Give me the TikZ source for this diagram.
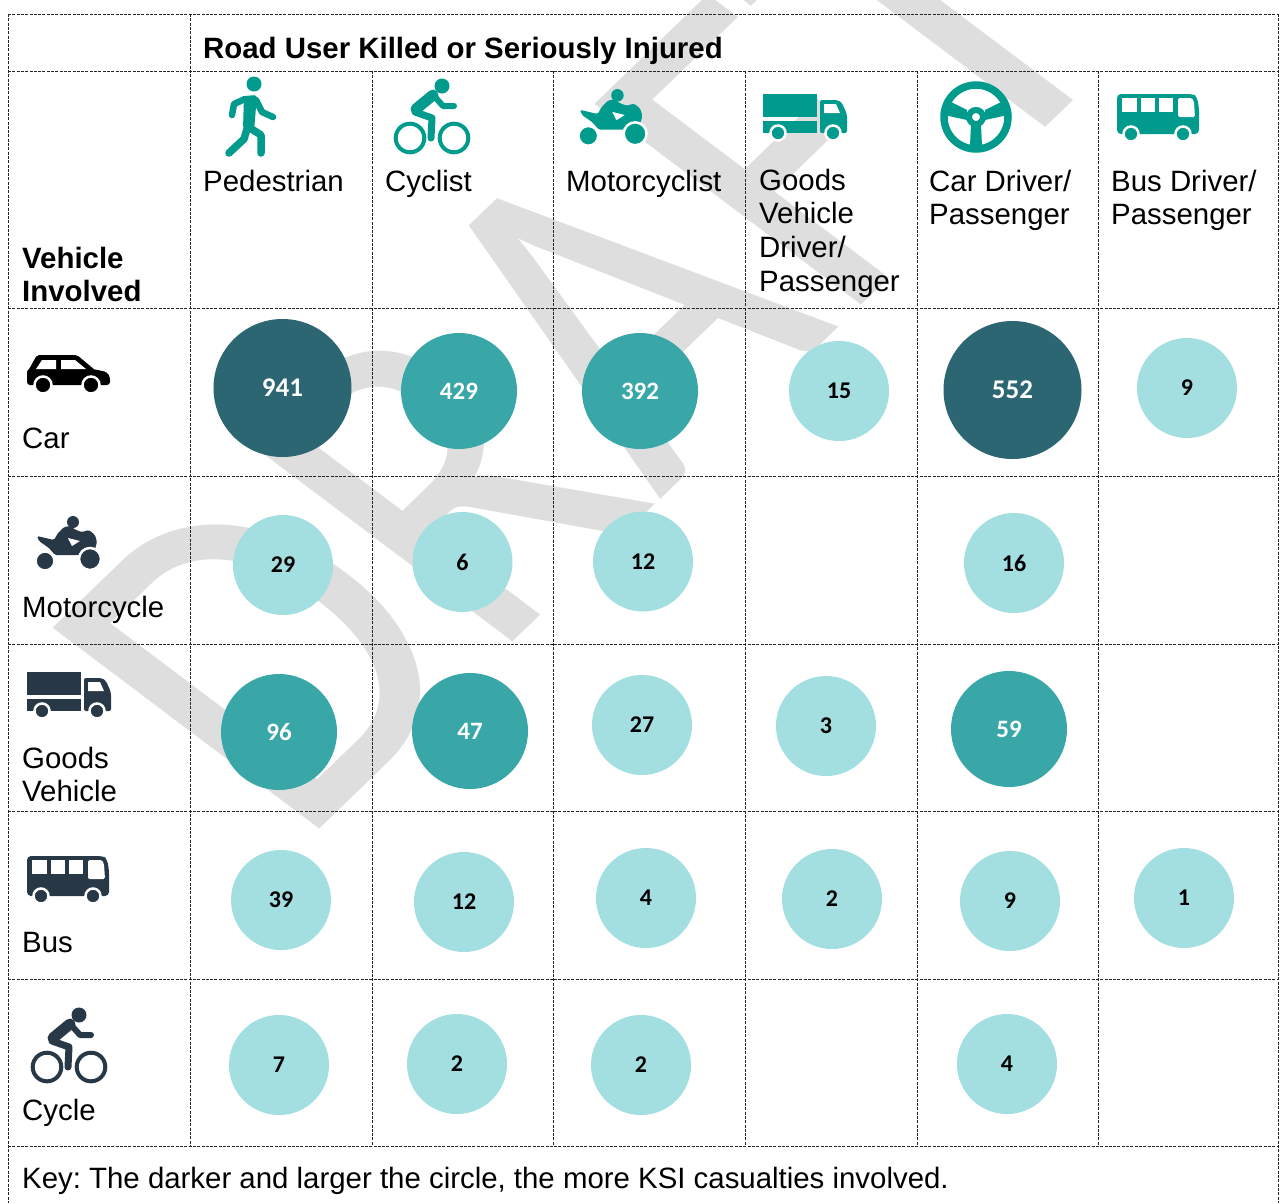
\documentclass[tikz,border=0pt]{standalone}
\usepackage{fontspec}
\setmainfont{Liberation Sans}
\newfontfamily\numfont{Carlito}
\newfontfamily\wmfont{Carlito}
\frenchspacing
\definecolor{icteal}{RGB}{0,155,141}
\definecolor{icslate}{RGB}{40,56,70}
\definecolor{cdark}{RGB}{43,102,114}
\definecolor{cmed}{RGB}{57,166,168}
\definecolor{clight}{RGB}{163,223,224}
\definecolor{wmgray}{RGB}{222,222,222}
\newcommand\mkTruck[1]{%
 \fill[#1] (0,0) rectangle (54,23);
 \fill[#1] (0,27) rectangle (54,39);
 \fill[#1,rounded corners=2pt] (57,6) -- (75,6) -- (79,9) -- (83,18) -- (84,21) -- (84,39) -- (57,39) -- cycle;
 \fill[white] (61,10) -- (73,10) -- (77,19) -- (61,19) -- cycle;
 \filldraw[fill=#1,draw=white,line width=2.5pt] (15,39) circle (7.5);
 \filldraw[fill=#1,draw=white,line width=2.5pt] (70,39) circle (7.5);
}
\newcommand\mkBus[1]{%
 \fill[#1,rounded corners=4pt] (0,0) -- (76,0) -- (80,3) -- (82,14) -- (82,40) -- (0,40) -- cycle;
 \fill[white] (5,4) rectangle (20,18);
 \fill[white] (24,4) rectangle (38,18);
 \fill[white] (42,4) rectangle (56,18);
 \fill[white,rounded corners=1.5pt] (61,4) -- (75,4) -- (77,8) -- (78,23) -- (61,23) -- cycle;
 \filldraw[fill=#1,draw=white,line width=2.5pt] (14,40) circle (7.5);
 \filldraw[fill=#1,draw=white,line width=2.5pt] (66,40) circle (7.5);
}
\newcommand\mkMoto[1]{%
 \fill[#1] (36,7) circle (6);
 \fill[#1,rounded corners=1.5pt] (0,21) -- (17,25) -- (21,18) -- (27,12) -- (33,11) -- (39,15) -- (45,17) -- (52,15) -- (58,20) -- (60,27) -- (58,34) -- (50,38) -- (42,40) -- (18,40) -- (12,33) -- (2,26) -- cycle;
 \fill[white] (31,23) -- (43,26) -- (35,31) -- cycle;
 \filldraw[fill=#1,draw=white,line width=2.5pt] (8,46) circle (9.5);
 \filldraw[fill=#1,draw=white,line width=2.5pt] (53,44) circle (11);
}
\newcommand\mkCyc[1]{%
 \fill[#1] (50,9) circle (7.5);
 \draw[#1,line width=11pt,line cap=round] (41,18) -- (24,32);
 \draw[#1,line width=6pt,line cap=round,line join=round] (43,20) -- (51,29) -- (62,29);
 \draw[#1,line width=7pt,line cap=round,line join=round] (23,35) -- (40,41) -- (39,61);
 \draw[#1,line width=4pt] (18,61) circle (14.3);
 \draw[#1,line width=4pt] (62,61) circle (14.3);
}
\begin{document}
\begin{tikzpicture}[x=1pt,y=-1pt,
 gridline/.style={draw=black!85,line width=0.8pt,dash pattern=on 3pt off 1.3pt},
 lbl/.style={anchor=base west,inner sep=0pt,font=\fontsize{29.4}{34}\selectfont},
 blbl/.style={lbl,font=\bfseries\fontsize{29.4}{34}\selectfont},
 bub/.style={circle,inner sep=0pt},
 bdark/.style={bub,fill=cdark,minimum size=138pt,text=white,font=\numfont\bfseries\fontsize{27}{27}\selectfont},
 bmed/.style={bub,fill=cmed,minimum size=116pt,text=white,font=\numfont\bfseries\fontsize{25}{25}\selectfont},
 blight/.style={bub,fill=clight,minimum size=100pt,text=black,font=\numfont\bfseries\fontsize{24}{24}\selectfont}
]
\useasboundingbox (0,0) rectangle (1280,1203);
\fill[white] (0,0) rectangle (1280,1203);
% watermark
\begin{scope}[cm={3.120,3.016,-4.155,3.130,(298,850)}]
\node[transform shape,anchor=base west,inner sep=0pt,text=wmgray,font=\wmfont\fontsize{100}{100}\selectfont] (wm) at (0,0) {DRAFT};
\end{scope}
% grid
\draw[gridline] (8,14) -- (1278,14);
\draw[gridline] (8,71) -- (1278,71);
\foreach \y in {308,476,644,811,979,1146} \draw[gridline] (8,\y) -- (1278,\y);
\draw[gridline] (8,14) -- (8,1203);
\draw[gridline] (1278,14) -- (1278,1203);
\draw[gridline] (190,14) -- (190,1146);
\foreach \x in {372,553,745,917,1098} \draw[gridline] (\x,71) -- (\x,1146);
% texts
\node[blbl] (title) at (203,58) {Road User Killed or Seriously Injured};
\node[blbl] (vi1) at (22,268) {Vehicle};
\node[blbl] (vi2) at (22,301) {Involved};
\node[lbl] (h1) at (203,191) {Pedestrian};
\node[lbl] (h2) at (385,191) {Cyclist};
\node[lbl] (h3) at (566,191) {Motorcyclist};
\node[lbl] (h4a) at (759,190) {Goods};
\node[lbl] (h4b) at (759,223) {Vehicle};
\node[lbl] (h4c) at (759,257) {Driver/};
\node[lbl] (h4d) at (759,291) {Passenger};
\node[lbl] (h5a) at (929,191) {Car Driver/};
\node[lbl] (h5b) at (929,224) {Passenger};
\node[lbl] (h6a) at (1111,191) {Bus Driver/};
\node[lbl] (h6b) at (1111,224) {Passenger};
\node[lbl] (r1) at (22,448) {Car};
\node[lbl] (r2) at (22,617) {Motorcycle};
\node[lbl] (r3a) at (22,768) {Goods};
\node[lbl] (r3b) at (22,801) {Vehicle};
\node[lbl] (r4) at (22,952) {Bus};
\node[lbl] (r5) at (22,1120) {Cycle};
\node[lbl] (key) at (22,1188) {Key: The darker and larger the circle, the more KSI casualties involved.};
% header icons
\fill[icteal] (254,84) circle (7.5);
\fill[icteal,rounded corners=3pt] (244,96) -- (257,95) -- (254,131) -- (243,129) -- cycle;
\draw[icteal,line width=6.5pt,line cap=round,line join=round] (245,99) -- (234,104) -- (232,115);
\draw[icteal,line width=6.5pt,line cap=round,line join=round] (256,100) -- (262,112) -- (273,117);
\draw[icteal,line width=7.5pt,line cap=round,line join=round] (247,129) -- (244,139) -- (229,153);
\draw[icteal,line width=7.5pt,line cap=round,line join=round] (250,128) -- (261,135) -- (261,153);
\begin{scope}[shift={(392,77)}] \mkCyc{icteal} \end{scope}
\begin{scope}[shift={(580,88)},scale=1.04] \mkMoto{icteal} \end{scope}
\begin{scope}[shift={(763,94)}] \mkTruck{icteal} \end{scope}
\draw[icteal,line width=7.5pt] (976,117) circle (32);
\draw[icteal,line width=6pt] (976,117) circle (7);
\fill[icteal] (945,99) -- (967,110) -- (967,120) -- (944,115) -- cycle;
\fill[icteal] (1007,99) -- (985,110) -- (985,120) -- (1008,115) -- cycle;
\fill[icteal] (971,124) -- (981,124) -- (982,146) -- (970,146) -- cycle;
\begin{scope}[shift={(1117,94)}] \mkBus{icteal} \end{scope}
% left icons
\begin{scope}[shift={(27,355)}]
 \fill[black,rounded corners=3pt] (0,14) -- (66,14) -- (80,17) -- (83,22) -- (83,30) -- (0,30) -- cycle;
 \fill[black,rounded corners=2pt] (1,16) -- (10,0) -- (50,0) -- (68,15) -- cycle;
 \fill[white] (9,14) -- (15,5) -- (29,5) -- (29,14) -- cycle;
 \fill[white] (34,5) -- (48,5) -- (59,14) -- (34,14) -- cycle;
 \filldraw[fill=black,draw=white,line width=2.5pt] (16,30) circle (8.5);
 \filldraw[fill=black,draw=white,line width=2.5pt] (64,30) circle (8.5);
\end{scope}
\begin{scope}[shift={(37,515)}] \mkMoto{icslate} \end{scope}
\begin{scope}[shift={(27,672)}] \mkTruck{icslate} \end{scope}
\begin{scope}[shift={(27,856)}] \mkBus{icslate} \end{scope}
\begin{scope}[shift={(29,1006)}] \mkCyc{icslate} \end{scope}
% bubbles
\node[bdark] (a1) at (282.5,388) {941};
\node[bmed] (a2) at (459,391) {429};
\node[bmed] (a3) at (640,391) {392};
\node[blight] (a4) at (839,391) {15};
\node[bdark] (a5) at (1012.5,390) {552};
\node[blight] (a6) at (1187,388) {9};
\node[blight] (b1) at (283,565) {29};
\node[blight] (b2) at (462.5,562) {6};
\node[blight] (b3) at (643,561.5) {12};
\node[blight] (b5) at (1014,563) {16};
\node[bmed] (c1) at (279,732) {96};
\node[bmed] (c2) at (470,731) {47};
\node[blight] (c3) at (642,725) {27};
\node[blight] (c4) at (826,726) {3};
\node[bmed] (c5) at (1009,729) {59};
\node[blight] (d1) at (281,900) {39};
\node[blight] (d2) at (464,902) {12};
\node[blight] (d3) at (646,898) {4};
\node[blight] (d4) at (832,899) {2};
\node[blight] (d5) at (1010,901) {9};
\node[blight] (d6) at (1184,898) {1};
\node[blight] (e1) at (279,1065) {7};
\node[blight] (e2) at (457,1064) {2};
\node[blight] (e3) at (641,1065) {2};
\node[blight] (e5) at (1007,1064) {4};
\end{tikzpicture}
\end{document}
